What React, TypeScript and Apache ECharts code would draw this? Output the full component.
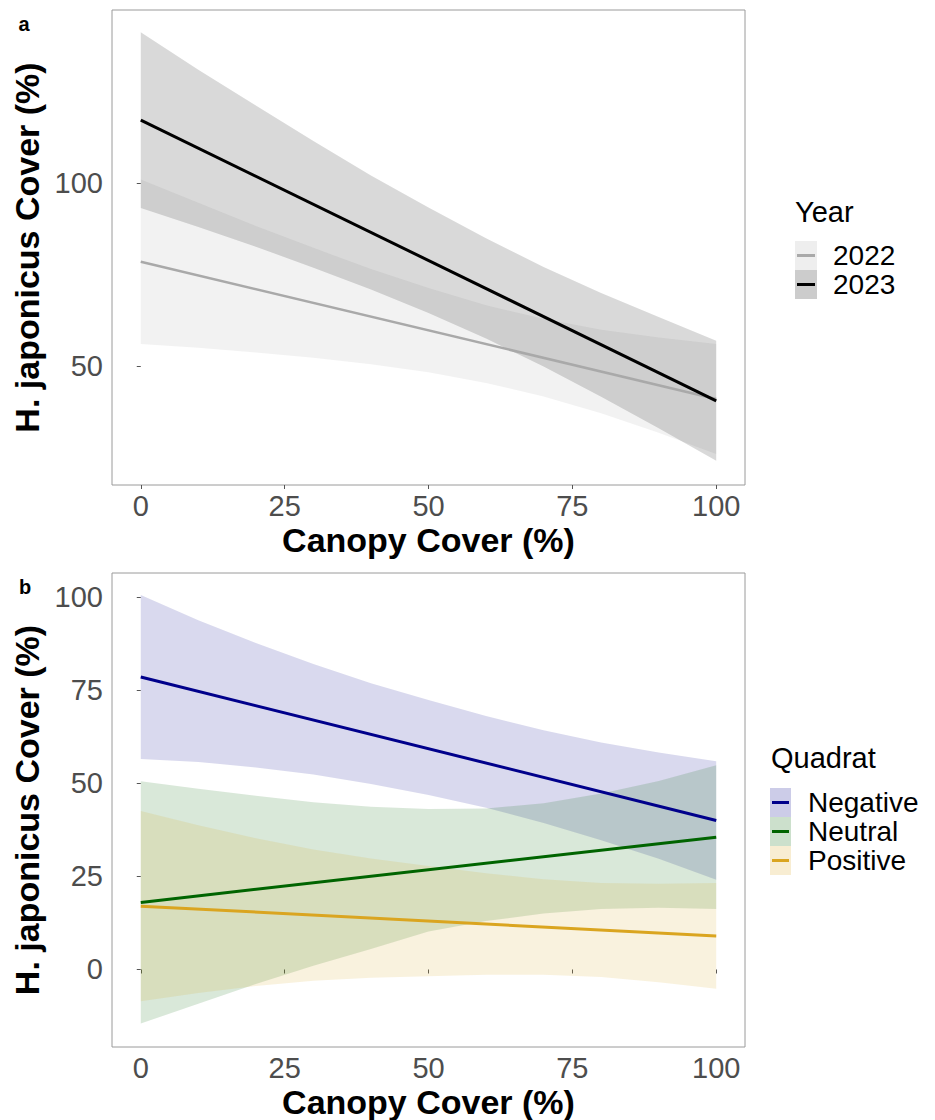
import React, { useEffect, useRef } from "react";
import * as echarts from "echarts";

// ---------- data ----------
const canopy = [0, 10, 20, 30, 40, 50, 60, 70, 80, 90, 100];
const lineEnds = [0, 100];
const xTicks = [0, 25, 50, 75, 100];
const yTicksA = [50, 100];
const yTicksB = [0, 25, 50, 75, 100];

// panel a : Year
const years = ["2022", "2023"];
const fit2022 = [78.5, 41.0];
const fit2023 = [117.2, 40.5];
const upper2022 = [101.0, 94.6, 88.3, 82.3, 76.5, 71.3, 66.6, 62.9, 59.9, 57.8, 56.0];
const lower2022 = [56.0, 55.0, 53.7, 52.3, 50.5, 48.3, 45.4, 41.7, 37.1, 31.8, 26.0];
const upper2023 = [141.2, 131.0, 121.2, 111.5, 102.1, 93.3, 84.9, 77.1, 70.0, 63.4, 56.9];
const lower2023 = [93.2, 88.0, 82.6, 76.9, 70.9, 64.5, 57.5, 49.9, 41.6, 33.0, 24.1];

// panel b : Quadrat
const quadrats = ["Negative", "Neutral", "Positive"];
const fitNegative = [78.5, 40.0];
const fitNeutral = [18.0, 35.5];
const fitPositive = [17.0, 9.0];
const upperNegative = [100.5, 93.7, 87.6, 82.0, 76.8, 72.3, 68.0, 64.2, 60.9, 58.2, 55.9];
const lowerNegative = [56.5, 55.7, 54.2, 52.3, 49.8, 46.8, 43.4, 39.3, 34.7, 29.7, 24.1];
const upperNeutral = [50.5, 48.5, 46.6, 44.9, 43.7, 43.1, 43.2, 44.6, 47.2, 50.6, 54.8];
const lowerNeutral = [-14.5, -9.2, -3.9, 1.0, 5.5, 10.2, 13.0, 15.0, 16.2, 16.6, 16.2];
const upperPositive = [42.5, 38.7, 35.2, 32.2, 29.8, 27.8, 25.8, 24.2, 23.2, 23.0, 23.2];
const lowerPositive = [-8.5, -6.3, -4.4, -3.0, -2.2, -1.8, -1.4, -1.4, -2.0, -3.4, -5.2];

// ---------- styles ----------
const FONT = "'Liberation Sans', Arial, Helvetica, sans-serif";
const yearColors = ["#a9a9a9", "#000000"];
const quadColors = ["#00008b", "#006400", "#daa520"];
const BAND_OPACITY = 0.15;

const yearFits = [fit2022, fit2023];
const yearUpper = [upper2022, upper2023];
const yearLower = [lower2022, lower2023];
const quadFits = [fitNegative, fitNeutral, fitPositive];
const quadUpper = [upperNegative, upperNeutral, upperPositive];
const quadLower = [lowerNegative, lowerNeutral, lowerPositive];

function bandSeries(key: string, lower: number[], upper: number[], color: string, gi: number) {
  return {
    type: "custom",
    name: key + "-band",
    xAxisIndex: gi,
    yAxisIndex: gi,
    silent: true,
    z: 1,
    data: canopy.map((x, i) => [x, lower[i], upper[i]]),
    encode: { x: 0, y: [1, 2] },
    renderItem: (params: any, api: any) => {
      if (params.dataIndex !== 0) return null;
      const pts: number[][] = [];
      canopy.forEach((x, i) => pts.push(api.coord([x, upper[i]])));
      for (let i = canopy.length - 1; i >= 0; i--) pts.push(api.coord([canopy[i], lower[i]]));
      return {
        type: "polygon",
        shape: { points: pts },
        style: { fill: color, opacity: BAND_OPACITY },
      };
    },
  };
}

function fitSeries(name: string, fit: number[], color: string, gi: number, width: number) {
  return {
    type: "line",
    name,
    xAxisIndex: gi,
    yAxisIndex: gi,
    data: lineEnds.map((x, i) => [x, fit[i]]),
    symbol: "none",
    silent: true,
    lineStyle: { color, width },
    z: 3,
  };
}

function xAxisFor(gi: number) {
  return {
    type: "value",
    gridIndex: gi,
    min: -5,
    max: 105,
    axisLine: { show: false },
    splitLine: { show: false },
    axisTick: { show: true, length: 4, lineStyle: { color: "#555" }, customValues: xTicks },
    axisLabel: { customValues: xTicks, fontSize: 29, color: "#4d4d4d", fontFamily: FONT, margin: 6 },
    name: "Canopy Cover (%)",
    nameLocation: "middle",
    nameGap: 38,
    nameTextStyle: { fontSize: 34, fontWeight: "bold", color: "#000", fontFamily: FONT },
  };
}

function yAxisFor(gi: number, min: number, max: number, ticks: number[]) {
  return {
    type: "value",
    gridIndex: gi,
    min,
    max,
    axisLine: { show: false },
    splitLine: { show: false },
    axisTick: { show: true, length: 4, lineStyle: { color: "#555" }, customValues: ticks },
    axisLabel: { customValues: ticks, fontSize: 29, color: "#4d4d4d", fontFamily: FONT, margin: 9 },
    name: "H. japonicus Cover (%)",
    nameLocation: "middle",
    nameGap: 63,
    nameTextStyle: { fontSize: 34, fontWeight: "bold", color: "#000", fontFamily: FONT },
  };
}

function legendGraphics(
  title: string,
  names: string[],
  colors: string[],
  titleX: number,
  titleY: number,
  keyX: number,
  keyY: number,
  keyW: number,
  keyH: number,
  textX: number
) {
  const els: any[] = [
    {
      type: "text",
      x: titleX,
      y: titleY,
      style: { text: title, fontSize: 29, fontFamily: FONT, fill: "#000", verticalAlign: "middle", align: "left" },
    },
  ];
  names.forEach((n, i) => {
    const cy = keyY + keyH * i + keyH / 2;
    els.push({
      type: "rect",
      shape: { x: keyX, y: keyY + keyH * i, width: keyW, height: keyH },
      style: { fill: colors[i], opacity: BAND_OPACITY + 0.05 },
    });
    els.push({
      type: "line",
      shape: { x1: keyX + 2, y1: cy, x2: keyX + keyW - 2, y2: cy },
      style: { stroke: colors[i], lineWidth: 3 },
    });
    els.push({
      type: "text",
      x: textX,
      y: cy,
      style: { text: n, fontSize: 28, fontFamily: FONT, fill: "#000", verticalAlign: "middle", align: "left" },
    });
  });
  return els;
}

export default function App() {
  const ref = useRef<HTMLDivElement>(null);

  useEffect(() => {
    if (!ref.current) return;
    const chart = echarts.init(ref.current, undefined, { renderer: "svg" });

    const series: any[] = [];
    years.forEach((y, i) => {
      series.push(bandSeries("year" + y, yearLower[i], yearUpper[i], yearColors[i], 0));
    });
    quadrats.forEach((q, i) => {
      series.push(bandSeries("quad" + q, quadLower[i], quadUpper[i], quadColors[i], 1));
    });
    years.forEach((y, i) => {
      series.push(fitSeries(y, yearFits[i], yearColors[i], 0, i === 0 ? 2.5 : 3));
    });
    quadrats.forEach((q, i) => {
      series.push(fitSeries(q, quadFits[i], quadColors[i], 1, 3));
    });

    const option: any = {
      animation: false,
      backgroundColor: "#ffffff",
      textStyle: { fontFamily: FONT },
      grid: [
        { left: 112, top: 10, width: 633, height: 475, show: true, borderColor: "#9a9a9a", borderWidth: 1, backgroundColor: "transparent" },
        { left: 112, top: 573, width: 633, height: 474, show: true, borderColor: "#9a9a9a", borderWidth: 1, backgroundColor: "transparent" },
      ],
      xAxis: [xAxisFor(0), xAxisFor(1)],
      yAxis: [yAxisFor(0, 17.5, 147.3, yTicksA), yAxisFor(1, -20.8, 106.4, yTicksB)],
      series,
      graphic: [
        {
          type: "text",
          x: 24,
          y: 24,
          style: { text: "a", fontSize: 20, fontWeight: "bold", fontFamily: FONT, fill: "#000", align: "center", verticalAlign: "middle" },
        },
        {
          type: "text",
          x: 25,
          y: 587,
          style: { text: "b", fontSize: 20, fontWeight: "bold", fontFamily: FONT, fill: "#000", align: "center", verticalAlign: "middle" },
        },
        ...legendGraphics("Year", years, yearColors, 795, 212, 795, 241, 22, 29, 833),
        ...legendGraphics("Quadrat", quadrats, quadColors, 771, 758, 770, 788, 21, 29, 808),
      ],
    };

    chart.setOption(option);
    return () => chart.dispose();
  }, []);

  return (
    <div
      ref={ref}
      style={{ position: "absolute", left: 0, top: 0, width: 935, height: 1120, background: "#fff" }}
    />
  );
}
